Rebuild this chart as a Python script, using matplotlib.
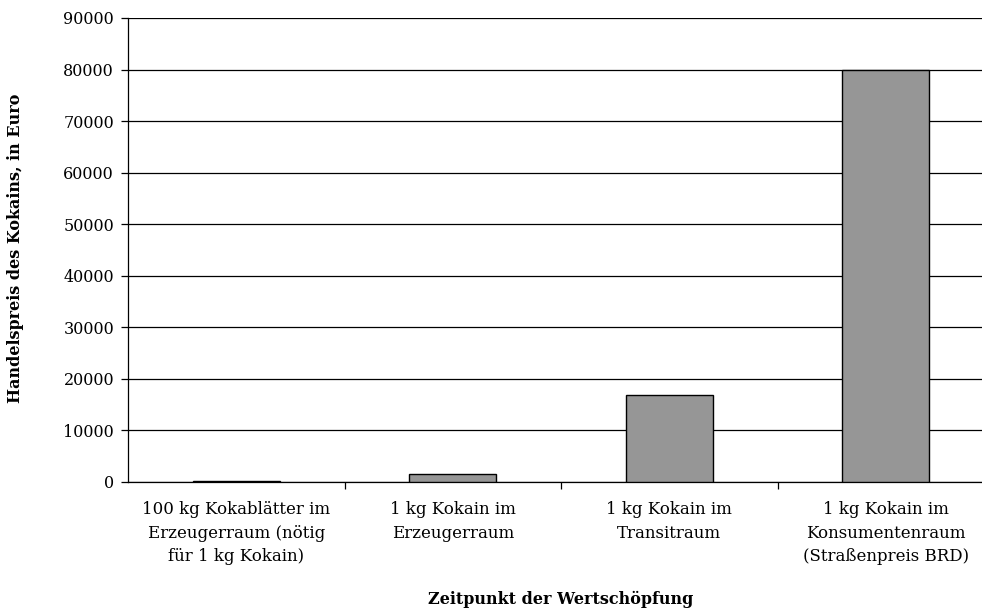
import numpy as np
import matplotlib
matplotlib.use('Agg')
import matplotlib.pyplot as plt

categories = ['100 kg Kokablätter im\nErzeugerraum (nötig\nfür 1 kg Kokain)',
              '1 kg Kokain im\nErzeugerraum',
              '1 kg Kokain im\nTransitraum',
              '1 kg Kokain im\nKonsumentenraum\n(Straßenpreis BRD)']
prices = [250, 1500, 16900, 80000]
yticks = [0, 10000, 20000, 30000, 40000, 50000, 60000, 70000, 80000, 90000]

plt.rcParams['font.family'] = ['DejaVu Serif']

fig = plt.figure(figsize=(9.82, 6.08), dpi=100)
ax = fig.add_axes([128/982, 1-482/608, 866/982, 464/608])

x = np.arange(len(categories))
ax.set_axisbelow(True)
ax.yaxis.grid(True, color='black', linewidth=0.9)
ax.bar(x, prices, width=0.4, color='#969696', edgecolor='black', linewidth=1.0, zorder=3)

ax.set_xlim(-0.5, 3.5)
ax.set_ylim(0, 90000)
ax.set_yticks(yticks)
ax.set_yticklabels([str(v) for v in yticks], fontsize=11.5)
ax.set_xticks(x)
ax.set_xticklabels(categories, fontsize=12, linespacing=1.5)
ax.tick_params(axis='x', which='major', length=0, pad=14)
ax.set_xticks([0.5, 1.5, 2.5], minor=True)
ax.tick_params(axis='x', which='minor', length=5, width=0.9, color='black')
ax.tick_params(axis='y', length=5, width=0.9, pad=5)

for s in ['top', 'right']:
    ax.spines[s].set_visible(False)
ax.spines['left'].set_linewidth(0.9)
ax.spines['bottom'].set_linewidth(0.9)

fig.text(561/982, 1-599/608, 'Zeitpunkt der Wertschöpfung', ha='center', va='center',
         fontsize=11.5, fontweight='bold')
fig.text(16/982, 1-248/608, 'Handelspreis des Kokains, in Euro', ha='center', va='center',
         rotation=90, fontsize=11.5, fontweight='bold')

fig.savefig('out.png', dpi=100)
plt.close()
